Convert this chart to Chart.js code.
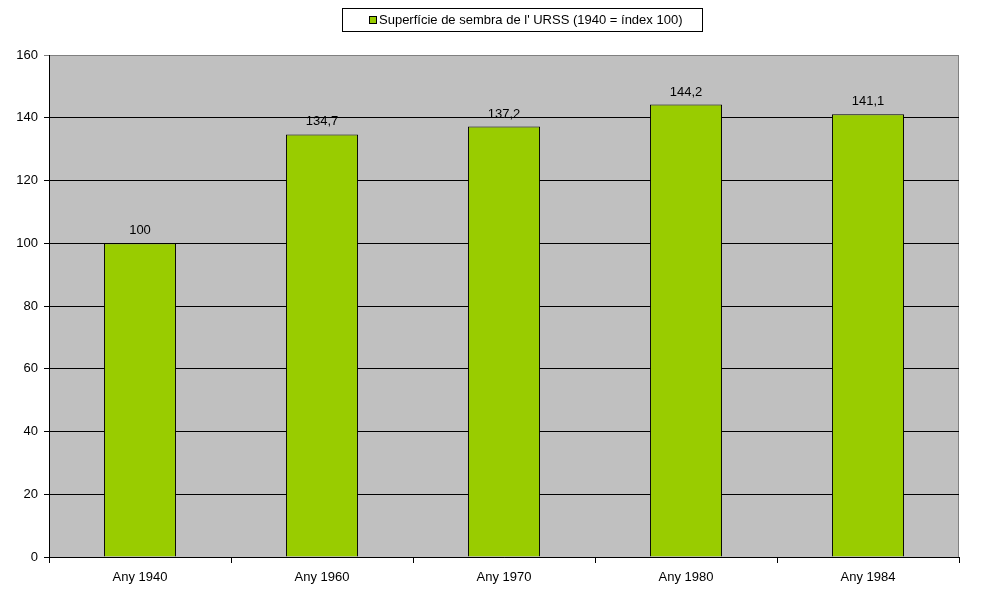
<!DOCTYPE html>
<html>
<head>
<meta charset="utf-8">
<script src="https://cdn.jsdelivr.net/npm/chart.js@4/dist/chart.umd.min.js"></script>
<style>
    body { margin: 0; background: #fff; }
    #wrap { width: 987px; height: 600px; }
</style>
</head>
<body>
<div id="wrap"><canvas id="chart" width="987" height="600"></canvas></div>
<script>
// dades
var categories = ['Any 1940', 'Any 1960', 'Any 1970', 'Any 1980', 'Any 1984'];
var values = [100, 134.7, 137.2, 144.2, 141.1];
var valueLabels = ['100', '134,7', '137,2', '144,2', '141,1'];
var seriesName = "Superfície de sembra de l' URSS (1940 = índex 100)";
var yTicks = [0, 20, 40, 60, 80, 100, 120, 140, 160];

var FAMILY = '"Liberation Sans", Arial, sans-serif';
var FONT = '13px ' + FAMILY;

//fons gris + vora superior/dreta
var plotBg = {
    id: 'plotBg',
    beforeDraw: function (chart) {
        var ctx = chart.ctx, a = chart.chartArea;
        ctx.save();
        ctx.fillStyle = '#fff';
        ctx.fillRect(0, 0, chart.width, chart.height);
        ctx.fillStyle = '#C0C0C0';
        ctx.fillRect(a.left, a.top, a.right - a.left, a.bottom - a.top);
        ctx.strokeStyle = '#808080';
        ctx.lineWidth = 1;
        ctx.beginPath();
        ctx.moveTo(a.left, a.top + 0.5);
        ctx.lineTo(a.right - 0.5, a.top + 0.5);
        ctx.lineTo(a.right - 0.5, a.bottom);
        ctx.stroke();
        ctx.restore();
    }
};

//etiquetes de valor + llegenda
var extras = {
    id: 'extras',
    afterDatasetsDraw: function (chart) {
        var ctx = chart.ctx;
        ctx.save();
        ctx.font = FONT;
        ctx.fillStyle = '#000';
        ctx.textAlign = 'center';
        ctx.textBaseline = 'bottom';
        chart.getDatasetMeta(0).data.forEach(function (bar, i) {
            ctx.fillText(valueLabels[i], bar.x, bar.y - 6);
        });

        // llegenda
        ctx.fillStyle = '#fff';
        ctx.fillRect(342, 8, 360, 23);
        ctx.strokeStyle = '#000';
        ctx.lineWidth = 1;
        ctx.strokeRect(342.5, 8.5, 360, 23);
        ctx.fillStyle = '#99CC00';
        ctx.fillRect(369, 16, 7, 7);
        ctx.strokeRect(369.5, 16.5, 7, 7);
        ctx.fillStyle = '#000';
        ctx.textAlign = 'left';
        ctx.textBaseline = 'middle';
        ctx.fillText(seriesName, 379, 20);
        ctx.restore();
    }
};

new Chart(document.getElementById('chart').getContext('2d'), {
    type: 'bar',
    data: {
        labels: categories,
        datasets: [{
            label: seriesName,
            data: values,
            backgroundColor: '#99CC00',
            borderColor: '#000',
            borderWidth: 1,
            categoryPercentage: 1,
            barPercentage: 0.396
        }]
    },
    options: {
        responsive: false,
        animation: false,
        devicePixelRatio: 1,
        layout: { padding: { top: 55, right: 28, left: 0, bottom: 0 } },
        plugins: {
            legend: { display: false },
            tooltip: { enabled: false }
        },
        scales: {
            x: {
                afterFit: function (s) { s.height = 43; },
                grid: { drawOnChartArea: false, drawTicks: true, tickLength: 6, color: '#000', offset: true },
                border: { color: '#000', width: 1 },
                ticks: { color: '#000', font: { family: FAMILY, size: 13 }, padding: 7 }
            },
            y: {
                min: 0,
                max: 160,
                afterFit: function (s) { s.width = 49; },
                afterBuildTicks: function (s) { s.ticks = yTicks.map(function (v) { return { value: v }; }); },
                grid: {
                    color: function (c) { return c.tick && c.tick.value === 160 ? '#808080' : '#000'; },
                    tickLength: 5
                },
                border: { color: '#000', width: 1 },
                ticks: { color: '#000', font: { family: FAMILY, size: 13 }, padding: 6 }
            }
        }
    },
    plugins: [plotBg, extras]
});
</script>
</body>
</html>
